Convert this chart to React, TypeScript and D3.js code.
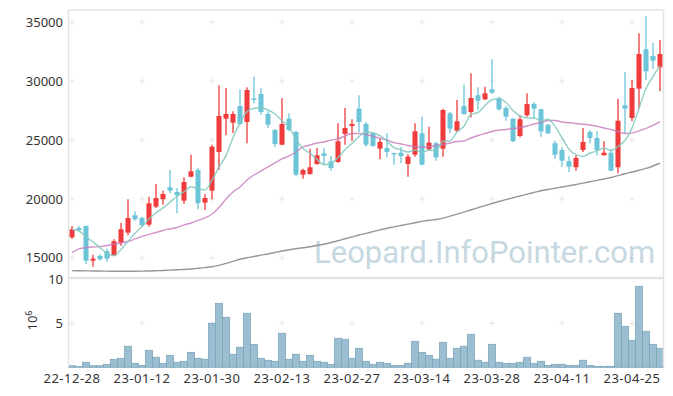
import React from "react";
import * as d3 from "d3";

const dates = [
  "22-12-28", "22-12-29", "23-01-02", "23-01-03", "23-01-04", "23-01-05", "23-01-06", "23-01-09", "23-01-10", "23-01-11",
  "23-01-12", "23-01-13", "23-01-16", "23-01-17", "23-01-18", "23-01-19", "23-01-20", "23-01-25", "23-01-26", "23-01-27",
  "23-01-30", "23-01-31", "23-02-01", "23-02-02", "23-02-03", "23-02-06", "23-02-07", "23-02-08", "23-02-09", "23-02-10",
  "23-02-13", "23-02-14", "23-02-15", "23-02-16", "23-02-17", "23-02-20", "23-02-21", "23-02-22", "23-02-23", "23-02-24",
  "23-02-27", "23-02-28", "23-03-02", "23-03-03", "23-03-06", "23-03-07", "23-03-08", "23-03-09", "23-03-10", "23-03-13",
  "23-03-14", "23-03-15", "23-03-16", "23-03-17", "23-03-20", "23-03-21", "23-03-22", "23-03-23", "23-03-24", "23-03-27",
  "23-03-28", "23-03-29", "23-03-30", "23-03-31", "23-04-03", "23-04-04", "23-04-05", "23-04-06", "23-04-07", "23-04-10",
  "23-04-11", "23-04-12", "23-04-13", "23-04-14", "23-04-17", "23-04-18", "23-04-19", "23-04-20", "23-04-21", "23-04-24",
  "23-04-25", "23-04-26", "23-04-27", "23-04-28", "23-05-02",
];

const open = [
  16754, 17542, 17712, 14771, 15170, 15568, 15229, 16297, 17144, 18619,
  18390, 17822, 19348, 19975, 20992, 20594, 19856, 21890, 22458, 19687,
  20703, 23984, 26806, 26467, 27882, 26526, 28530, 28899, 27204, 25848,
  24602, 26806, 25678, 22060, 22119, 22967, 23873, 23195, 23136, 25509,
  26187, 27654, 26357, 25568, 24263, 24322, 23899, 23925, 22967, 23755,
  25568, 24212, 24721, 24263, 27263, 25789, 27882, 27374, 28789, 28450,
  29297, 28560, 27713, 26806, 25340, 27094, 28051, 27602, 26297, 24721,
  24153, 23195, 22687, 24153, 25678, 25170, 23704, 23925, 22687, 27940,
  26865, 29348, 32687, 32119, 31161,
];
const high = [
  17712, 17712, 17760, 15280, 15339, 15788, 16585, 17992, 19975, 18958,
  18500, 20195, 21272, 20703, 22458, 20933, 21839, 23755, 22628, 20424,
  24602, 29636, 29408, 27433, 29297, 29467, 30365, 29408, 27433, 25933,
  28560, 27263, 25789, 22568, 24263, 24322, 24322, 23645, 26416, 27713,
  26755, 28789, 26526, 25678, 25111, 25568, 23925, 24433, 23814, 26416,
  26975, 26128, 24831, 27654, 27374, 28390, 29687, 30653, 29467, 29518,
  31839, 28670, 27882, 26850, 27094, 28958, 28221, 27654, 26350, 24941,
  24433, 23645, 23704, 26018, 25848, 25737, 24890, 24263, 28500, 30763,
  30085, 34040, 35509, 33248, 33475,
];
const low = [
  16610, 17288, 14492, 14263, 14771, 14661, 15170, 16017, 16924, 18161,
  17653, 17653, 19238, 19517, 20483, 18788, 19577, 21839, 19127, 19068,
  19975, 22458, 25398, 25594, 26246, 24721, 28110, 27145, 26018, 24433,
  24551, 25737, 21950, 21721, 22060, 22907, 22907, 22398, 23077, 24602,
  24941, 25678, 24433, 24433, 23365, 23534, 22907, 23026, 21890, 23585,
  22856, 24093, 23246, 23585, 25568, 25678, 27145, 26924, 27543, 28390,
  28899, 27484, 26636, 24831, 25229, 26975, 26806, 25280, 25509, 23416,
  22738, 22288, 22398, 23984, 24721, 23704, 23680, 22347, 22178, 25618,
  26585, 27654, 30085, 31043, 29128,
];
const close = [
  17432, 17373, 14771, 14941, 14890, 14941, 16415, 17432, 18390, 18280,
  17771, 19636, 20085, 20424, 20703, 20314, 21441, 22348, 19636, 20085,
  24433, 27034, 27204, 27204, 26357, 29238, 28450, 27374, 26297, 24661,
  26357, 25848, 22060, 22458, 22687, 23704, 23645, 22628, 24890, 26018,
  26357, 26526, 24602, 24492, 24831, 23984, 23840, 23645, 23585, 25738,
  22907, 24772, 23534, 27543, 25958, 26585, 27204, 28560, 28331, 28958,
  29009, 27602, 26975, 24890, 26755, 28051, 27654, 25738, 25568, 23755,
  23246, 22738, 23475, 24831, 25170, 24153, 23925, 22398, 26636, 27654,
  29408, 32289, 30823, 31721, 32289,
];
// volume in millions of shares
const volume = [
  0.18, 0.07, 0.57, 0.18, 0.18, 0.34, 0.9, 1.02, 2.39, 0.45,
  0.22, 1.93, 1.14, 0.45, 1.36, 0.57, 0.68, 1.7, 1.02, 0.91,
  5.0, 7.27, 5.68, 1.48, 2.27, 6.14, 2.61, 1.02, 0.8, 0.68,
  3.86, 0.91, 1.48, 0.68, 1.36, 0.68, 0.57, 0.34, 3.3, 3.18,
  1.02, 2.16, 0.68, 0.34, 0.57, 0.45, 0.22, 0.22, 0.45, 2.95,
  1.7, 1.36, 0.91, 2.84, 1.02, 2.16, 2.39, 3.75, 0.8, 0.57,
  2.61, 0.57, 0.45, 0.45, 0.57, 1.14, 0.45, 0.68, 0.22, 0.34,
  0.34, 0.22, 0.22, 0.8, 0.22, 0.11, 0.11, 0.11, 6.14, 4.66,
  3.07, 9.2, 4.09, 2.61, 2.16,
];
const ma5 = [
  17415, 17290, 16780, 16360, 15881, 15383, 15192, 15724, 16414, 17092,
  17658, 18302, 18832, 19239, 19724, 20232, 20593, 21046, 20888, 20765,
  21589, 22707, 23678, 25192, 26446, 27407, 27691, 27725, 27543, 27204,
  26628, 26107, 25045, 24277, 23882, 23351, 22911, 23024, 23511, 24177,
  24708, 25284, 25679, 25599, 25362, 24887, 24350, 24158, 23977, 24158,
  23943, 24129, 24107, 24899, 24943, 25678, 26165, 27170, 27328, 27928,
  28412, 28492, 28175, 27487, 27046, 26855, 26865, 26618, 26753, 26153,
  25192, 24209, 23756, 23609, 23892, 24073, 24311, 24095, 24456, 24953,
  26004, 27677, 29362, 30379, 31306,
];
const ma20 = [
  15449, 15763, 15890, 15932, 15958, 16060, 16187, 16271, 16398, 16610,
  16822, 16992, 17161, 17331, 17458, 17585, 17797, 17966, 18178, 18390,
  18729, 19280, 20000, 20594, 21017, 21610, 22034, 22373, 22712, 23051,
  23390, 23645, 23984, 24407, 24577, 24746, 24831, 25000, 25085, 25339,
  25551, 25551, 25466, 25297, 25144, 25000, 24772, 24661, 24534, 24432,
  24407, 24432, 24534, 24619, 24746, 24873, 24915, 25170, 25382, 25551,
  25721, 25848, 25890, 25975, 26043, 26187, 26357, 26483, 26653, 26653,
  26526, 26467, 26398, 26331, 26272, 26162, 26018, 25890, 25720, 25550,
  25600, 25770, 25980, 26230, 26551,
];
const ma60 = [
  13924, 13915, 13907, 13898, 13890, 13881, 13873, 13873, 13873, 13873,
  13881, 13898, 13915, 13941, 13966, 14000, 14025, 14068, 14119, 14178,
  14254, 14373, 14534, 14712, 14890, 15017, 15127, 15237, 15339, 15466,
  15593, 15695, 15780, 15864, 15949, 16059, 16161, 16305, 16458, 16627,
  16788, 16941, 17085, 17237, 17381, 17517, 17636, 17754, 17865, 17983,
  18102, 18195, 18263, 18373, 18543, 18712, 18882, 19068, 19254, 19441,
  19619, 19789, 19949, 20102, 20255, 20407, 20551, 20695, 20805, 20907,
  21017, 21119, 21229, 21339, 21458, 21577, 21695, 21822, 21983, 22136,
  22289, 22432, 22593, 22797, 23026,
];

const priceTicks = [15000, 20000, 25000, 30000, 35000];
const volumeTicks = [5, 10];
const dateTicks = dates.filter((_, i) => i % 10 === 0);

const W = 673;
const H = 396;
const left = 68.5;
const right = 663.5;
const priceTop = 10;
const priceBottom = 278;
const volTop = 279.3;
const volBottom = 367.3;

const font = "'Noto Sans', 'DejaVu Sans', sans-serif";
const UP = "#ef3b3b";
const DOWN = "#6cc4d9";

export default function App() {
  const x = d3.scaleBand<string>().domain(dates).range([left, right]).padding(0);
  const bw = x.bandwidth();
  const cx = (i: number) => (x(dates[i]) as number) + bw / 2;
  const y = d3.scaleLinear().domain([13300, 36020]).range([priceBottom, priceTop]);
  const yv = d3.scaleLinear().domain([0, 10]).range([volBottom, volTop]);

  const line = d3
    .line<number>()
    .x((_, i) => cx(i))
    .y((d) => y(d))
    .curve(d3.curveMonotoneX);

  const cross = (px: number, py: number, key: string) => (
    <g key={key} stroke="#e6e6e6" strokeWidth={1}>
      <line x1={px - 3} x2={px + 3} y1={py} y2={py} />
      <line x1={px} x2={px} y1={py - 3} y2={py + 3} />
    </g>
  );

  return (
    <div style={{ position: "absolute", left: 0, top: 0 }}>
      <svg width={W} height={H} style={{ display: "block", background: "#fff" }}>
        {/* grid crosses */}
        {dateTicks.map((d) =>
          priceTicks.map((p) => cross(cx(dates.indexOf(d)), y(p), `p${d}${p}`))
        )}
        {dateTicks.map((d) => cross(cx(dates.indexOf(d)), yv(5), `v${d}`))}

        {/* watermark */}
        <text
          x={314}
          y={263}
          fontFamily="Roboto, 'Noto Sans', sans-serif"
          fontSize={31}
          fill="#b9cfdc"
          opacity={0.8}
        >
          Leopard.InfoPointer.com
        </text>

        {/* volume bars */}
        {volume.map((v, i) => (
          <rect
            key={`vol${i}`}
            x={x(dates[i]) as number}
            y={yv(v)}
            width={bw}
            height={yv(0) - yv(v)}
            fill="#9bbfd0"
            stroke="#7ba6bb"
            strokeWidth={0.8}
          />
        ))}

        {/* candles */}
        {dates.map((d, i) => {
          const up = close[i] >= open[i];
          const c = up ? UP : DOWN;
          const top = y(Math.max(open[i], close[i]));
          const bot = y(Math.min(open[i], close[i]));
          const bodyW = bw * 0.72;
          return (
            <g key={`c${d}`}>
              <line x1={cx(i)} x2={cx(i)} y1={y(high[i])} y2={y(low[i])} stroke={c} strokeWidth={1.3} />
              <rect x={cx(i) - bodyW / 2} y={top} width={bodyW} height={Math.max(1.5, bot - top)} fill={c} />
            </g>
          );
        })}

        {/* moving averages */}
        <path d={line(ma60) || ""} fill="none" stroke="#8c8c8c" strokeWidth={1.4} opacity={0.9} />
        <path d={line(ma20) || ""} fill="none" stroke="#c678bd" strokeWidth={1.4} opacity={0.8} />
        <path d={line(ma5) || ""} fill="none" stroke="#84c9bf" strokeWidth={1.5} opacity={0.85} />

        {/* frame */}
        <g stroke="#e4e4e4" fill="none">
          <line x1={left} x2={right} y1={priceTop} y2={priceTop} strokeWidth={1.5} />
          <line x1={left} x2={right} y1={priceBottom} y2={priceBottom} strokeWidth={2.5} />
          <line x1={left} x2={left} y1={priceTop} y2={volBottom} strokeWidth={1.5} />
          <line x1={right} x2={right} y1={priceTop} y2={volBottom} strokeWidth={1.5} />
        </g>

        {/* price axis */}
        {priceTicks.map((p) => (
          <text key={`pt${p}`} x={63} y={y(p)} dy="0.35em" textAnchor="end" fontFamily={font} fontSize={13} fill="#333">
            {p}
          </text>
        ))}
        {/* volume axis */}
        {volumeTicks.map((v) => (
          <text key={`vt${v}`} x={63} y={yv(v)} dy="0.35em" textAnchor="end" fontFamily={font} fontSize={13} fill="#333">
            {v}
          </text>
        ))}
        <text transform="translate(36.5,320.5) rotate(-90)" textAnchor="middle" fontFamily={font} fontSize={13} fill="#333">
          10
          <tspan dy={-5} fontSize={9}>
            6
          </tspan>
        </text>

        {/* date axis */}
        {dateTicks.map((d) => (
          <text
            key={`dt${d}`}
            x={cx(dates.indexOf(d))}
            y={378}
            dy="0.35em"
            textAnchor="middle"
            fontFamily={font}
            fontSize={13}
            letterSpacing={0.5}
            fill="#333"
          >
            {d}
          </text>
        ))}
      </svg>
    </div>
  );
}
